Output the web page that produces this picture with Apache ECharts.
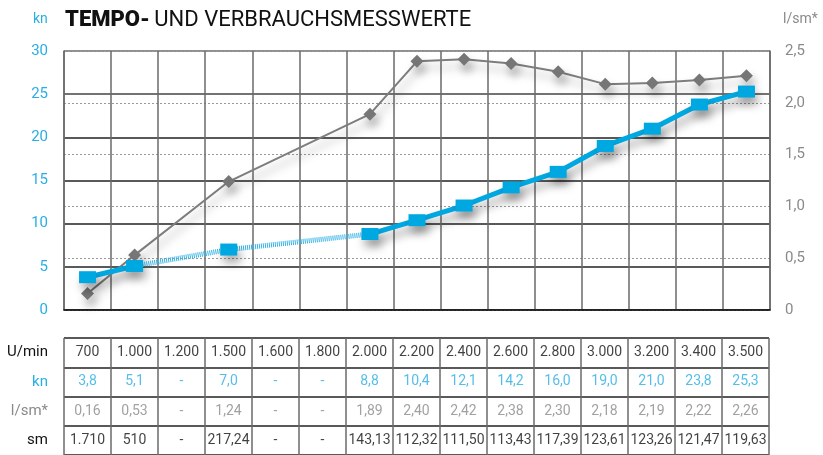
<!DOCTYPE html>
<html lang="de">
<head>
<meta charset="UTF-8">
<script src="https://cdn.jsdelivr.net/npm/echarts@6/dist/echarts.min.js"></script>
<style>
  html, body { margin: 0; padding: 0; background: #fff; }
  #main { width: 823px; height: 455px; }
</style>
</head>
<body>
<div id="main"></div>
<script>
// Drehzahl-Kategorien (Spalten von Diagramm und Tabelle)
var rpm = ['700', '1.000', '1.200', '1.500', '1.600', '1.800', '2.000', '2.200', '2.400', '2.600', '2.800', '3.000', '3.200', '3.400', '3.500'];
// Tempo in kn (linke Achse)
var knValues = [3.8, 5.1, null, 7.0, null, null, 8.8, 10.4, 12.1, 14.2, 16.0, 19.0, 21.0, 23.8, 25.3];
// Verbrauch l/sm* (rechte Achse)
var fuelValues = [0.16, 0.53, null, 1.24, null, null, 1.89, 2.40, 2.42, 2.38, 2.30, 2.18, 2.19, 2.22, 2.26];
// Reichweite sm (nur Tabelle)
var smText = ['1.710', '510', '-', '217,24', '-', '-', '143,13', '112,32', '111,50', '113,43', '117,39', '123,61', '123,26', '121,47', '119,63'];
var rowLabels = ['U/min', 'kn', 'l/sm*', 'sm'];
var knTicks = { min: 0, max: 30, interval: 5 };
var fuelTicks = { min: 0, max: 2.5, interval: 0.5 };

var BLUE = '#00a8e1';
var BLUE_TXT = '#29aee4';
var GRAY = '#7d7d7d';
var GRAY_TXT = '#8a8a8a';
var FONT = 'Roboto';

function comma(v, d) {
  return v == null ? '-' : v.toFixed(d).replace('.', ',');
}

var rowTexts = [
  rpm,
  knValues.map(function (v) { return comma(v, 1); }),
  fuelValues.map(function (v) { return comma(v, 2); }),
  smText
];
var rowColors = ['#111', BLUE_TXT, GRAY_TXT, '#111'];

// gestrichelte Verbindung 1.000 -> 2.000
var knLink = knValues.map(function (v, i) { return (i >= 1 && i <= 6) ? v : null; });

var shadow = { shadowColor: 'rgba(0,0,0,0.35)', shadowBlur: 10, shadowOffsetX: 3, shadowOffsetY: 7 };

var tableSeries = rowTexts.map(function (row, r) {
  return {
    type: 'scatter',
    xAxisIndex: 1,
    yAxisIndex: 2,
    symbolSize: 1,
    silent: true,
    itemStyle: { color: 'rgba(0,0,0,0)' },
    label: {
      show: true,
      position: 'inside',
      color: rowColors[r],
      fontFamily: FONT,
      fontSize: 14,
      formatter: function (p) { return p.value[2]; }
    },
    data: row.map(function (t, i) { return [i, r, t]; })
  };
});

var myChart = echarts.init(document.getElementById('main'));
var option = {
  animation: false,
  textStyle: { fontFamily: FONT },
  title: {
    text: '{b|TEMPO-} {r|UND VERBRAUCHSMESSWERTE}',
    left: 60,
    top: 4,
    textStyle: {
      rich: {
        b: { fontFamily: FONT, fontSize: 22, fontWeight: 900, color: '#111' },
        r: { fontFamily: FONT, fontSize: 22, fontWeight: 'normal', color: '#111' }
      }
    }
  },
  graphic: [
    { type: 'text', left: 33, top: 12, style: { text: 'kn', fill: BLUE_TXT, font: '14px Roboto' } },
    { type: 'text', left: 783, top: 12, style: { text: 'l/sm*', fill: GRAY_TXT, font: '14px Roboto' } }
  ],
  grid: [
    { left: 64, right: 53, top: 51, height: 259 },
    { left: 64, right: 54, top: 338, height: 124 }
  ],
  xAxis: [
    {
      type: 'category',
      gridIndex: 0,
      data: rpm,
      boundaryGap: true,
      axisLabel: { show: false },
      axisTick: { show: false },
      axisLine: { lineStyle: { color: '#111', width: 1.5 } },
      splitLine: { show: true, lineStyle: { color: '#6a6a6a', width: 1.5 } }
    },
    {
      type: 'category',
      gridIndex: 1,
      data: rpm,
      boundaryGap: true,
      axisLabel: { show: false },
      axisTick: { show: false },
      axisLine: { show: false },
      splitLine: { show: true, lineStyle: { color: '#6a6a6a', width: 1.5 } }
    }
  ],
  yAxis: [
    {
      type: 'value',
      gridIndex: 0,
      min: knTicks.min,
      max: knTicks.max,
      interval: knTicks.interval,
      axisLine: { show: true, lineStyle: { color: '#6a6a6a', width: 1.5 } },
      axisTick: { show: false },
      axisLabel: { color: BLUE_TXT, fontSize: 15, margin: 16 },
      splitLine: { show: true, lineStyle: { color: ['#222', '#222', '#222', '#222', '#222', '#444', '#6a6a6a'], width: 1.5 } }
    },
    {
      type: 'value',
      gridIndex: 0,
      position: 'right',
      min: fuelTicks.min,
      max: fuelTicks.max,
      interval: fuelTicks.interval,
      axisLine: { show: true, lineStyle: { color: '#6a6a6a', width: 1.5 } },
      axisTick: { show: false },
      axisLabel: {
        color: GRAY_TXT, fontSize: 15, margin: 15,
        formatter: function (v) { return v === 0 ? '0' : comma(v, 1); }
      },
      splitLine: { show: true, lineStyle: { color: '#9a9a9a', width: 1, type: [2, 2] } }
    },
    {
      type: 'category',
      gridIndex: 1,
      data: rowLabels,
      inverse: true,
      boundaryGap: true,
      axisLine: { show: false },
      axisTick: { show: false },
      axisLabel: {
        fontSize: 15,
        margin: 16,
        color: function (v, i) { return rowColors[i]; }
      },
      splitLine: { show: true, lineStyle: { color: '#222', width: 1.5 } }
    }
  ],
  series: [
    {
      name: 'l/sm*',
      type: 'line',
      yAxisIndex: 1,
      data: fuelValues,
      connectNulls: true,
      symbol: 'diamond',
      symbolSize: 13,
      z: 3,
      lineStyle: Object.assign({ color: GRAY, width: 2 }, shadow),
      itemStyle: Object.assign({ color: '#767676' }, shadow)
    },
    {
      name: 'kn-link',
      type: 'line',
      data: knLink,
      connectNulls: true,
      showSymbol: false,
      z: 4,
      lineStyle: { color: '#35b3e6', width: 5, type: [1, 1] }
    },
    {
      name: 'kn',
      type: 'line',
      data: knValues,
      connectNulls: false,
      symbol: 'rect',
      symbolSize: [17, 12],
      z: 5,
      lineStyle: Object.assign({ color: BLUE, width: 5 }, shadow),
      itemStyle: Object.assign({ color: BLUE }, shadow)
    }
  ].concat(tableSeries)
};
myChart.setOption(option);
</script>
</body>
</html>
